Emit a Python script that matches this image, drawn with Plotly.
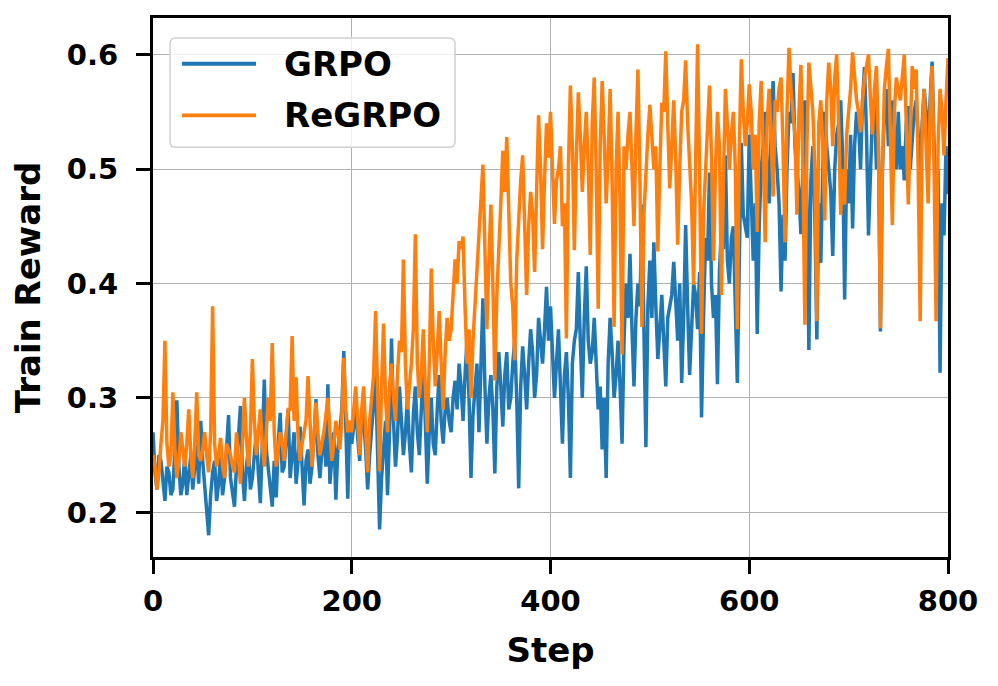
import plotly.graph_objects as go

steps = list(range(0, 801, 2))

grpo = [
    0.27, 0.235, 0.22, 0.25, 0.245, 0.225, 0.21, 0.24, 0.235, 0.215, 0.22, 0.255, 0.298, 0.24, 0.215, 0.225, 0.25, 0.215, 0.235, 0.25,
    0.22, 0.24, 0.26, 0.225, 0.28, 0.245, 0.22, 0.205, 0.18, 0.215, 0.235, 0.245, 0.21, 0.225, 0.25, 0.215, 0.23, 0.255, 0.285, 0.23,
    0.215, 0.205, 0.24, 0.265, 0.293, 0.235, 0.21, 0.24, 0.255, 0.22,
    0.23, 0.25, 0.27, 0.235, 0.208, 0.26, 0.316, 0.255, 0.24, 0.225, 0.205, 0.245, 0.213, 0.26, 0.287, 0.235, 0.24, 0.265, 0.29, 0.23,
    0.25, 0.27, 0.225, 0.245, 0.275, 0.235, 0.206, 0.245, 0.255, 0.225, 0.24, 0.265, 0.299, 0.25, 0.23, 0.255, 0.27, 0.24, 0.312, 0.225,
    0.25, 0.27, 0.211, 0.255, 0.27, 0.29, 0.341, 0.26, 0.212, 0.28,
    0.26, 0.275, 0.30, 0.265, 0.245, 0.29, 0.28, 0.255, 0.22, 0.25, 0.27, 0.295, 0.32, 0.26, 0.185, 0.23, 0.26, 0.28, 0.215, 0.27,
    0.352, 0.28, 0.24, 0.265, 0.31, 0.28, 0.25, 0.27, 0.30, 0.26, 0.235, 0.285, 0.31, 0.27, 0.25, 0.29, 0.33, 0.28, 0.225, 0.27,
    0.30, 0.26, 0.25, 0.29, 0.32, 0.28, 0.26, 0.29, 0.30, 0.28,
    0.27, 0.30, 0.315, 0.29, 0.33, 0.31, 0.28, 0.32, 0.35, 0.30, 0.23, 0.285, 0.31, 0.33, 0.27, 0.32, 0.387, 0.31, 0.26, 0.30,
    0.32, 0.29, 0.234, 0.31, 0.34, 0.31, 0.275, 0.32, 0.34, 0.29, 0.30, 0.33, 0.35, 0.30, 0.221, 0.31, 0.345, 0.32, 0.29, 0.33,
    0.36, 0.34, 0.30, 0.32, 0.37, 0.35, 0.33, 0.36, 0.397, 0.35,
    0.38, 0.34, 0.30, 0.33, 0.36, 0.31, 0.26, 0.32, 0.34, 0.30, 0.23, 0.33, 0.35, 0.36, 0.41, 0.35, 0.30, 0.37, 0.415, 0.35,
    0.33, 0.34, 0.37, 0.33, 0.29, 0.31, 0.255, 0.30, 0.23, 0.33, 0.37, 0.34, 0.30, 0.32, 0.35, 0.31, 0.26, 0.35, 0.40, 0.37,
    0.426, 0.36, 0.31, 0.37, 0.40, 0.38, 0.469, 0.36, 0.257, 0.38,
    0.42, 0.37, 0.436, 0.38, 0.334, 0.36, 0.39, 0.35, 0.31, 0.37, 0.38, 0.39, 0.419, 0.38, 0.35, 0.40, 0.313, 0.37, 0.451, 0.38,
    0.32, 0.36, 0.40, 0.39, 0.36, 0.41, 0.283, 0.37, 0.44, 0.42, 0.497, 0.40, 0.37, 0.39, 0.312, 0.41, 0.45, 0.43, 0.512, 0.42,
    0.40, 0.44, 0.45, 0.38, 0.313, 0.42, 0.523, 0.46, 0.45, 0.44,
    0.53, 0.48, 0.42, 0.47, 0.356, 0.45, 0.50, 0.52, 0.55, 0.50, 0.47, 0.53, 0.577, 0.52, 0.50, 0.47, 0.393, 0.46, 0.42, 0.50,
    0.55, 0.54, 0.584, 0.52, 0.50, 0.48, 0.443, 0.51, 0.56, 0.47, 0.342, 0.49, 0.52, 0.46, 0.351, 0.47, 0.418, 0.50, 0.55, 0.52,
    0.50, 0.48, 0.424, 0.50, 0.53, 0.54, 0.56, 0.51, 0.386, 0.50,
    0.47, 0.53, 0.448, 0.52, 0.55, 0.54, 0.50, 0.56, 0.589, 0.53, 0.442, 0.51, 0.55, 0.56, 0.50, 0.52, 0.358, 0.50, 0.55, 0.57,
    0.52, 0.54, 0.56, 0.53, 0.50, 0.55, 0.50, 0.52, 0.49, 0.54, 0.555, 0.50, 0.53, 0.55, 0.56, 0.53, 0.50, 0.54, 0.57, 0.55,
    0.52, 0.56, 0.594, 0.52, 0.441, 0.50, 0.322, 0.47, 0.442, 0.52, 0.478,
]

regrpo = [
    0.25, 0.24, 0.22, 0.235, 0.26, 0.28, 0.35, 0.26, 0.24, 0.25, 0.305, 0.255, 0.23, 0.245, 0.27, 0.255, 0.24, 0.26, 0.29, 0.25,
    0.23, 0.26, 0.305, 0.25, 0.245, 0.255, 0.27, 0.25, 0.235, 0.27, 0.38, 0.26, 0.24, 0.25, 0.265, 0.24, 0.23, 0.26, 0.255, 0.25,
    0.24, 0.235, 0.27, 0.25, 0.225, 0.26, 0.30, 0.265, 0.24, 0.27,
    0.334, 0.28, 0.25, 0.27, 0.29, 0.26, 0.24, 0.27, 0.30, 0.28, 0.348, 0.27, 0.24, 0.255, 0.27, 0.26, 0.245, 0.27, 0.29, 0.29,
    0.354, 0.28, 0.318, 0.265, 0.245, 0.26, 0.27, 0.28, 0.319, 0.27, 0.24, 0.265, 0.296, 0.27, 0.25, 0.26, 0.27, 0.285, 0.30, 0.27,
    0.245, 0.26, 0.28, 0.27, 0.255, 0.28, 0.335, 0.29, 0.27, 0.28,
    0.27, 0.29, 0.31, 0.28, 0.25, 0.29, 0.31, 0.27, 0.235, 0.28, 0.30, 0.32, 0.376, 0.30, 0.236, 0.31, 0.365, 0.30, 0.27, 0.31,
    0.33, 0.30, 0.28, 0.32, 0.35, 0.34, 0.421, 0.33, 0.29, 0.31, 0.33, 0.36, 0.443, 0.33, 0.30, 0.32, 0.36, 0.31, 0.27, 0.33,
    0.413, 0.35, 0.31, 0.34, 0.376, 0.33, 0.29, 0.34, 0.37, 0.35,
    0.36, 0.39, 0.421, 0.40, 0.437, 0.43, 0.441, 0.38, 0.33, 0.36, 0.30, 0.35, 0.38, 0.41, 0.45, 0.47, 0.504, 0.43, 0.36, 0.42,
    0.469, 0.40, 0.315, 0.39, 0.44, 0.47, 0.516, 0.48, 0.528, 0.45, 0.40, 0.38, 0.333, 0.42, 0.46, 0.49, 0.512, 0.44, 0.39, 0.45,
    0.48, 0.46, 0.41, 0.48, 0.547, 0.50, 0.43, 0.49, 0.54, 0.51,
    0.55, 0.50, 0.452, 0.49, 0.50, 0.52, 0.45, 0.47, 0.352, 0.50, 0.573, 0.52, 0.429, 0.51, 0.567, 0.53, 0.48, 0.52, 0.55, 0.50,
    0.425, 0.54, 0.58, 0.50, 0.378, 0.52, 0.577, 0.53, 0.47, 0.51, 0.57, 0.49, 0.362, 0.50, 0.55, 0.47, 0.338, 0.52, 0.50, 0.53,
    0.55, 0.50, 0.45, 0.53, 0.587, 0.49, 0.362, 0.46, 0.50, 0.53,
    0.556, 0.53, 0.50, 0.52, 0.428, 0.50, 0.558, 0.55, 0.603, 0.54, 0.483, 0.52, 0.56, 0.51, 0.434, 0.50, 0.55, 0.56, 0.595, 0.54,
    0.50, 0.47, 0.399, 0.52, 0.609, 0.50, 0.356, 0.46, 0.50, 0.54, 0.573, 0.51, 0.42, 0.50, 0.55, 0.52, 0.39, 0.49, 0.57, 0.54,
    0.50, 0.53, 0.55, 0.50, 0.36, 0.52, 0.596, 0.55, 0.52, 0.54,
    0.574, 0.55, 0.50, 0.53, 0.445, 0.54, 0.577, 0.52, 0.436, 0.54, 0.57, 0.53, 0.476, 0.56, 0.55, 0.57, 0.58, 0.52, 0.436, 0.55,
    0.606, 0.57, 0.55, 0.53, 0.46, 0.55, 0.591, 0.50, 0.364, 0.52, 0.593, 0.57, 0.55, 0.50, 0.367, 0.54, 0.56, 0.52, 0.455, 0.56,
    0.593, 0.57, 0.52, 0.58, 0.60, 0.54, 0.46, 0.50, 0.469, 0.53,
    0.55, 0.57, 0.602, 0.58, 0.56, 0.55, 0.532, 0.56, 0.58, 0.59, 0.60, 0.56, 0.53, 0.57, 0.59, 0.52, 0.361, 0.50, 0.57, 0.59,
    0.605, 0.53, 0.451, 0.55, 0.58, 0.57, 0.56, 0.58, 0.60, 0.54, 0.469, 0.53, 0.59, 0.57, 0.587, 0.50, 0.367, 0.53, 0.57, 0.52,
    0.47, 0.55, 0.59, 0.50, 0.367, 0.52, 0.57, 0.55, 0.512, 0.56, 0.597,
]

assert len(grpo) == len(steps) and len(regrpo) == len(steps), (len(grpo), len(regrpo), len(steps))

series_names = ["GRPO", "ReGRPO"]
colors = ["#1f77b4", "#ff7f0e"]
x_ticks = [0, 200, 400, 600, 800]
y_ticks = [0.2, 0.3, 0.4, 0.5, 0.6]

FONT = "DejaVu Sans"

fig = go.Figure()
for name, vals, c in zip(series_names, [grpo, regrpo], colors):
    fig.add_trace(go.Scatter(x=steps, y=vals, mode="lines", name=name,
                             line=dict(color=c, width=3.5), showlegend=False))

axis_common = dict(
    showline=True, linecolor="black", linewidth=3, mirror=True,
    ticks="outside", ticklen=14, tickwidth=3, tickcolor="black",
    showgrid=True, gridcolor="#b0b0b0", gridwidth=1.3, zeroline=False,
    tickfont=dict(family=FONT, size=29, color="black", weight="bold"),
)

fig.update_xaxes(range=[0, 800], tickvals=x_ticks, ticklabelstandoff=2,
                 title=dict(text="Step", font=dict(family=FONT, size=34, color="black", weight="bold"), standoff=22),
                 **axis_common)
fig.update_yaxes(range=[0.161, 0.632], tickvals=y_ticks, ticktext=[f"{v:.1f}" for v in y_ticks],
                 ticklabelstandoff=12,
                 title=dict(text="Train Reward", font=dict(family=FONT, size=34, color="black", weight="bold"), standoff=18),
                 **axis_common)

# legend drawn manually to match the matplotlib style (rounded frame)
x0, x1, y0, y1 = 0.0214, 0.3799, 0.7601, 0.9631
rx, ry = 0.0075, 0.011
path = (f"M {x0+rx},{y0} L {x1-rx},{y0} Q {x1},{y0} {x1},{y0+ry} L {x1},{y1-ry} "
        f"Q {x1},{y1} {x1-rx},{y1} L {x0+rx},{y1} Q {x0},{y1} {x0},{y1-ry} "
        f"L {x0},{y0+ry} Q {x0},{y0} {x0+rx},{y0} Z")
fig.add_shape(type="path", xref="paper", yref="paper", path=path,
              line=dict(color="#d0d0d0", width=1.5), fillcolor="rgba(255,255,255,0.8)", layer="above")
for name, c, yy in zip(series_names, colors, [0.9151, 0.8192]):
    fig.add_shape(type="line", xref="paper", yref="paper", x0=0.0365, x1=0.1296, y0=yy, y1=yy,
                  line=dict(color=c, width=3.8), layer="above")
    fig.add_annotation(xref="paper", yref="paper", x=0.1623, y=yy, text=name, showarrow=False,
                       xanchor="left", yanchor="middle",
                       font=dict(family=FONT, size=34, color="black", weight="bold"))

fig.update_layout(
    width=990, height=678,
    margin=dict(l=145, r=50, t=7, b=129),
    paper_bgcolor="white", plot_bgcolor="white",
)

fig.write_html("out.html")
